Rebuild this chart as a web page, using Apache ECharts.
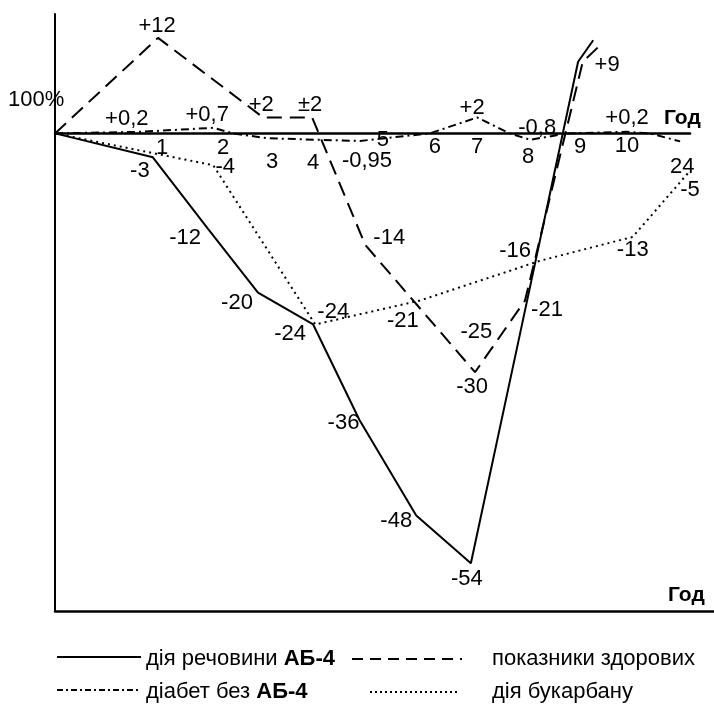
<!DOCTYPE html>
<html>
<head>
<meta charset="utf-8">
<script src="https://cdn.jsdelivr.net/npm/echarts/dist/echarts.min.js"></script>
<style>
  html, body { margin: 0; padding: 0; background: #fff; }
  #chart { width: 714px; height: 708px; }
</style>
</head>
<body>
<div id="chart"></div>
<script>
// ---------- дані ----------
// позиції подано в одиницях горизонтальної осі схеми (як на рисунку)
const yearLabels = ['1', '2', '3', '4', '5', '6', '7', '8', '9', '10', '24'];
const yearTickPos = [2.06, 3.23, 4.17, 4.96, 6.30, 7.30, 8.11, 9.09, 10.09, 10.99, 12.05];

// дія речовини АБ-4
const ab4X = [0, 1.88, 2.94, 3.90, 4.96, 5.85, 6.94, 7.99, 8.94, 10.05, 10.34];
const ab4Y = [0, -3, -12, -20, -24, -36, -48, -54, -25, 9, 11.7];
const ab4Text = ['', '-3', '-12', '-20', '-24', '-36', '-48', '-54', '-25', '+9', ''];

// показники здорових
const healthyX = [0, 1.98, 4.00, 4.94, 5.96, 8.07, 9.03, 10.14, 10.51];
const healthyY = [0, 12, 2, 2, -14, -30, -21, 9, 11.3];
const healthyText = ['', '+12', '+2', '±2', '-14', '-30', '-21', '', ''];

// діабет без АБ-4
const diabX = [0, 1.63, 3.04, 3.42, 4.07, 5.03, 5.86, 7.20, 8.11, 8.74, 9.13, 9.84, 10.99, 11.43, 12.01];
const diabY = [0, 0.2, 0.7, 0, -0.6, -0.8, -0.95, 0, 2, 0, -0.8, 0, 0.2, 0, -1];
const diabText = ['', '+0,2', '+0,7', '', '', '', '-0,95', '', '+2', '', '-0,8', '', '+0,2', '', ''];

// дія букарбану
const bucX = [0, 3.04, 5.00, 7.01, 9.32, 11.10, 12.16];
const bucY = [0, -4, -24, -21, -16, -13, -5];
const bucText = ['', '-4', '-24', '-21', '-16', '-13', '-5'];

// ---------- розміщення підписів (стиль) ----------
const yearTickDrop = [15, 15, 29, 30, 7, 14, 14, 24, 14, 13, 34];
const ab4Shift = [null, [-13, 14], [-23, 9], [-21, 10], [-23, 9], [-16, 3], [-20, 5], [-4, 16], [-44, 0], [29, 3], null];
const healthyShift = [null, [-1, -12], [-2, -13], [-2, -13], [24, -7], [-3, 15], [22, 9], null, null];
const diabShift = [null, [-13, -13], [-6, -13], null, null, null, [7, 20], null, [-5, -10], null, [7, -12], null, [0, -14], null, null];
const bucShift = [null, [12, 2], [18, -13], [-17, 20], [-25, -10], [0, 13], [2, 17]];

const FONT = '"Liberation Sans", Arial, Helvetica, sans-serif';
const LABEL_SIZE = 22;

function lineSeries(name, xs, ys, texts, shifts, dash) {
  return {
    name: name,
    type: 'line',
    xAxisIndex: 0,
    yAxisIndex: 0,
    symbol: 'circle',
    symbolSize: 0,
    showSymbol: true,
    silent: true,
    lineStyle: { color: '#000', width: 2, type: dash },
    itemStyle: { color: '#000', opacity: 1 },
    label: { color: '#000', fontSize: LABEL_SIZE, fontFamily: FONT },
    data: xs.map(function (x, i) {
      if (!texts[i]) return { value: [x, ys[i]], label: { show: false } };
      return {
        value: [x, ys[i]],
        label: { show: true, position: 'inside', formatter: texts[i], offset: shifts[i] }
      };
    })
  };
}

let chart = echarts.init(document.getElementById('chart'), null, { renderer: 'canvas' });

chart.setOption({
  backgroundColor: '#fff',
  animation: false,
  textStyle: { fontFamily: FONT },
  grid: [
    { left: 55, right: 24, top: 14, bottom: 97 },
    { left: 55, right: 0, top: 14, bottom: 97 }
  ],
  xAxis: [{
    gridIndex: 0,
    type: 'value',
    min: 0,
    max: 12.2,
    axisLine: { show: true, onZero: true, lineStyle: { color: '#000', width: 2.5 } },
    axisTick: { show: false },
    axisLabel: { show: false },
    splitLine: { show: false }
  }, {
    gridIndex: 1,
    type: 'value',
    position: 'bottom',
    min: 0,
    max: 1,
    axisLine: { show: true, onZero: false, lineStyle: { color: '#000', width: 2.5 } },
    axisTick: { show: false },
    axisLabel: { show: false },
    splitLine: { show: false }
  }],
  yAxis: [{
    gridIndex: 0,
    type: 'value',
    min: -60,
    max: 15,
    axisLine: { show: true, lineStyle: { color: '#000', width: 2 } },
    axisTick: { show: false },
    axisLabel: { show: false },
    splitLine: { show: false }
  }, {
    gridIndex: 1,
    type: 'value',
    show: false
  }],
  series: [
    lineSeries('дія речовини АБ-4', ab4X, ab4Y, ab4Text, ab4Shift, 'solid'),
    lineSeries('показники здорових', healthyX, healthyY, healthyText, healthyShift, [15, 8]),
    lineSeries('діабет без АБ-4', diabX, diabY, diabText, diabShift, [8, 4, 2, 4]),
    lineSeries('дія букарбану', bucX, bucY, bucText, bucShift, [2, 4]),
    {
      name: 'роки',
      type: 'scatter',
      xAxisIndex: 0,
      yAxisIndex: 0,
      symbolSize: 0,
      silent: true,
      itemStyle: { color: '#000', opacity: 1 },
      label: {
        show: true,
        position: 'inside',
        color: '#000',
        fontSize: LABEL_SIZE,
        fontFamily: FONT,
        formatter: function (p) { return yearLabels[p.dataIndex]; }
      },
      data: yearTickPos.map(function (x, i) {
        return { value: [x, 0], label: { offset: [0, yearTickDrop[i]] } };
      })
    }
  ],
  graphic: [
    { type: 'text', left: 8, top: 89, style: { text: '100%', fontSize: 22, fontFamily: FONT, fill: '#000' } },
    { type: 'text', left: 664, top: 108, style: { text: 'Год', fontSize: 21, fontWeight: 'bold', fontFamily: FONT, fill: '#000' } },
    { type: 'text', left: 668, top: 585, style: { text: 'Год', fontSize: 21, fontWeight: 'bold', fontFamily: FONT, fill: '#000' } },
    // легенда
    { type: 'line', shape: { x1: 57, y1: 657, x2: 141, y2: 657 }, style: { stroke: '#000', lineWidth: 2 } },
    { type: 'line', shape: { x1: 352, y1: 659, x2: 462, y2: 659 }, style: { stroke: '#000', lineWidth: 2, lineDash: [11, 7] } },
    { type: 'line', shape: { x1: 57, y1: 690, x2: 141, y2: 690 }, style: { stroke: '#000', lineWidth: 2, lineDash: [6, 3, 2, 3] } },
    { type: 'line', shape: { x1: 370, y1: 692, x2: 458, y2: 692 }, style: { stroke: '#000', lineWidth: 2, lineDash: [2, 3] } },
    {
      type: 'text', left: 146, top: 648,
      style: {
        text: 'дія речовини {b|АБ-4}', fontSize: 22, fontFamily: FONT, fill: '#000',
        rich: { b: { fontSize: 22, fontWeight: 'bold', fontFamily: FONT, fill: '#000' } }
      }
    },
    { type: 'text', left: 492, top: 648, style: { text: 'показники здорових', fontSize: 22, fontFamily: FONT, fill: '#000' } },
    {
      type: 'text', left: 146, top: 681,
      style: {
        text: 'діабет без {b|АБ-4}', fontSize: 22, fontFamily: FONT, fill: '#000',
        rich: { b: { fontSize: 22, fontWeight: 'bold', fontFamily: FONT, fill: '#000' } }
      }
    },
    { type: 'text', left: 492, top: 681, style: { text: 'дія букарбану', fontSize: 22, fontFamily: FONT, fill: '#000' } }
  ]
});
</script>
</body>
</html>
